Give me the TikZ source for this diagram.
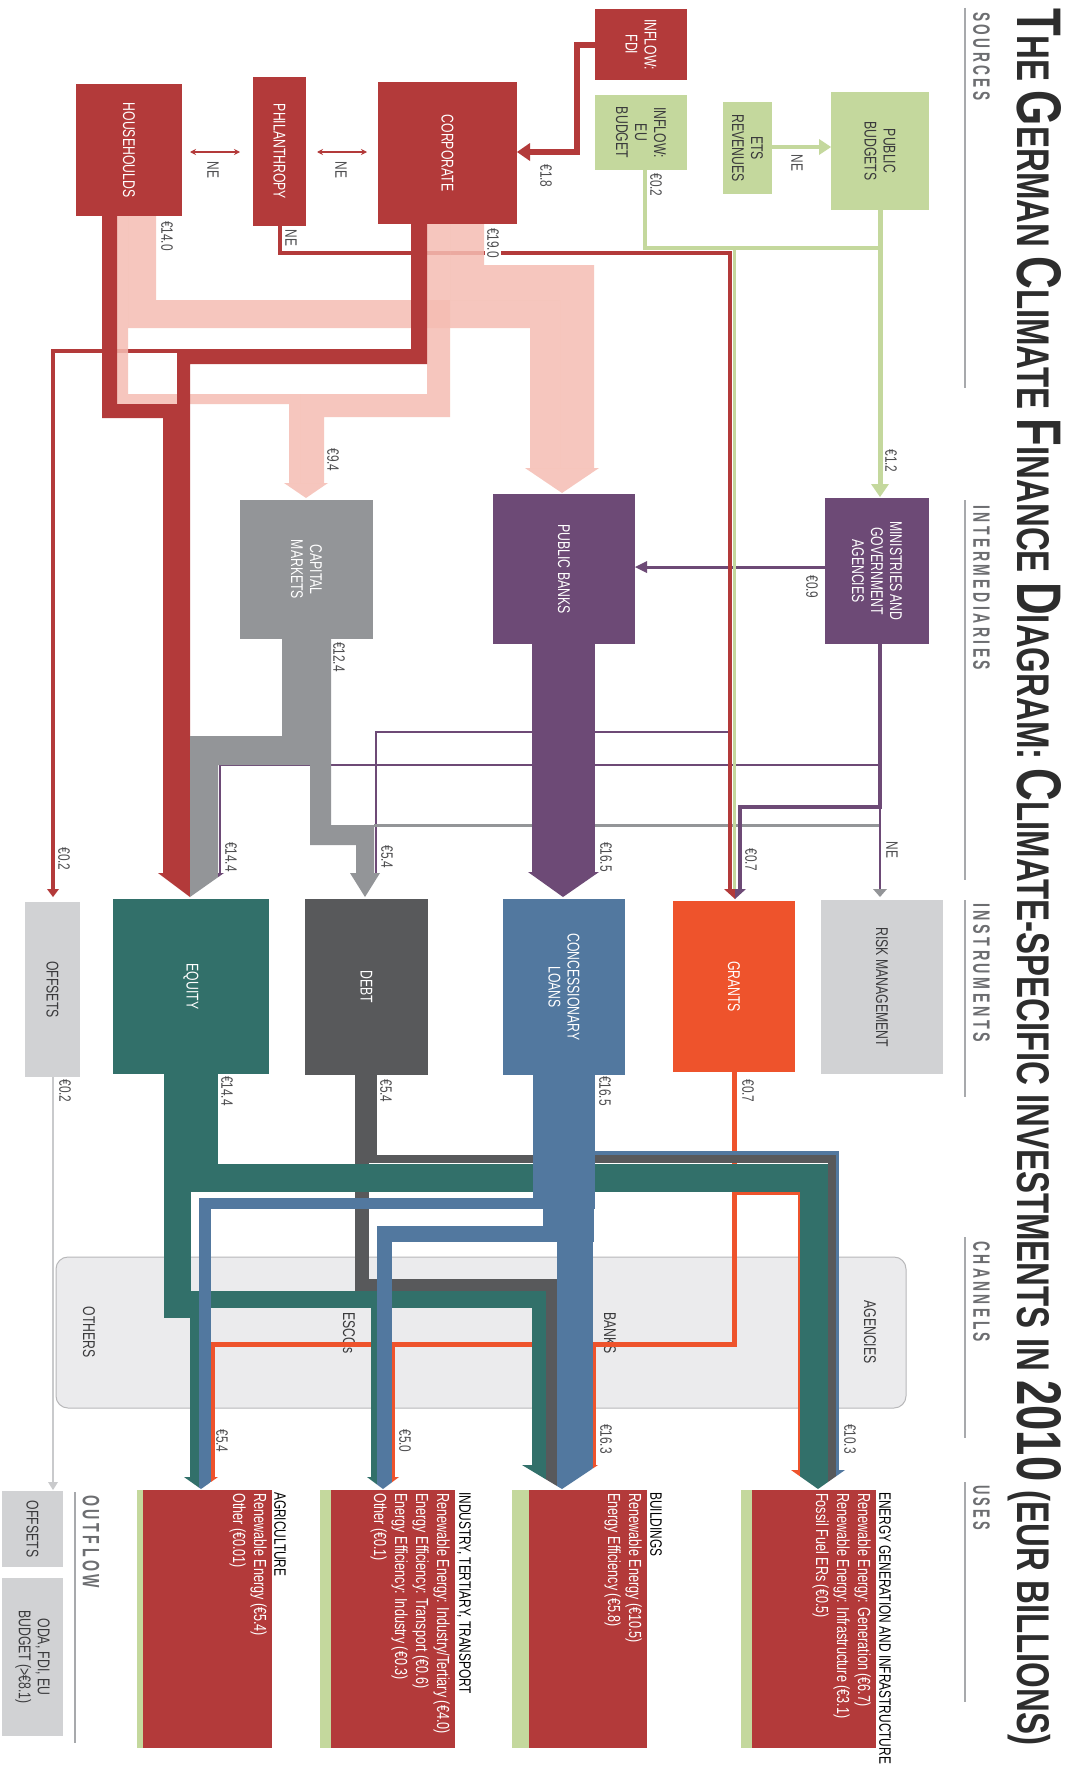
\documentclass[tikz,border=0pt]{standalone}
\usepackage{fontspec}
\setmainfont{Liberation Sans}[FakeStretch=0.72]
\usepackage{graphicx}
\usetikzlibrary{arrows.meta}
\definecolor{redc}{HTML}{B33A3A}
\definecolor{pinkc}{HTML}{F5BDB3}
\definecolor{greenc}{HTML}{C4D89D}
\definecolor{purc}{HTML}{6D4A76}
\definecolor{grayc}{HTML}{939598}
\definecolor{tealc}{HTML}{32706A}
\definecolor{dgc}{HTML}{58595B}
\definecolor{bluec}{HTML}{52789F}
\definecolor{orc}{HTML}{EE532C}
\definecolor{ltc}{HTML}{D1D2D4}
\definecolor{chf}{HTML}{EBEBED}
\definecolor{chb}{HTML}{B8B8BA}
\definecolor{secc}{HTML}{6D6E71}
\definecolor{linec}{HTML}{A7A9AC}
\definecolor{labc}{HTML}{4D4D4F}
\definecolor{titlec}{HTML}{2D2D2D}
\definecolor{darkt}{HTML}{3A3A3C}
\definecolor{offl}{HTML}{C9CACC}
\newcommand\tbig[1]{{\fontsize{44}{44}\selectfont #1}}
\newcommand\tsm[1]{{\fontsize{32}{32}\selectfont #1}}
\newcommand\seclabel[2]{\resizebox{#1pt}{16.5pt}{\bfseries\addfontfeature{LetterSpace=18}#2}}
\begin{document}
\begin{tikzpicture}[x=1pt,y=-1pt,
  bx/.style={rectangle, inner sep=0pt, outer sep=0pt, anchor=north west, draw=none},
  btxt/.style={rotate=-90, inner sep=0pt, align=center, text=white, font=\fontsize{17}{19}\selectfont},
  bdark/.style={btxt, text=darkt},
  vlab/.style={rotate=-90, inner sep=0pt, text=labc, font=\fontsize{16.5}{18}\selectfont},
  uhead/.style={rotate=-90, anchor=south west, inner sep=0pt, text=black, font=\fontsize{16.5}{20}\selectfont},
  uline/.style={rotate=-90, anchor=north west, inner sep=0pt, align=left, text=white, font=\fontsize{17.5}{21}\selectfont},
  seclab/.style={rotate=-90, anchor=west, inner sep=0pt, text=secc},
  secline/.style={draw=linec, line width=1.3pt},
  chlab/.style={rotate=-90, inner sep=0pt, text=darkt, font=\fontsize{17}{19}\selectfont},
  dbl/.style={draw=redc, line width=1.4pt, {Stealth[length=6pt,width=6pt]}-{Stealth[length=6pt,width=6pt]}},
]
\useasboundingbox (0,0) rectangle (1074,1769);
\fill[white] (0,0) rectangle (1074,1769);

% ---------- title and section labels
\node[rotate=-90, anchor=base west, inner sep=0pt, text=titlec] (title) at (1017,8)
  {\resizebox{1737pt}{44pt}{\bfseries\fontsize{32}{32}\selectfont \tbig{T}\tsm{HE} \tbig{G}\tsm{ERMAN} \tbig{C}\tsm{LIMATE} \tbig{F}\tsm{INANCE} \tbig{D}\tsm{IAGRAM:} \tbig{C}\tsm{LIMATE-SPECIFIC INVESTMENTS IN} \tbig{2010} \tsm{(EUR BILLIONS)}}};
\node[seclab] (src) at (981.5,12) {\seclabel{88}{SOURCES}};
\draw[secline] (965,8) -- (965,388);
\node[seclab] (intm) at (981.5,505) {\seclabel{165}{INTERMEDIARIES}};
\draw[secline] (965,500) -- (965,880);
\node[seclab] (instr) at (981.5,903) {\seclabel{139}{INSTRUMENTS}};
\draw[secline] (965,900) -- (965,1097);
\node[seclab] (chn) at (981.5,1241) {\seclabel{101}{CHANNELS}};
\draw[secline] (965,1237) -- (965,1438);
\node[seclab] (usesl) at (981.5,1485) {\seclabel{45}{USES}};
\draw[secline] (965,1482) -- (965,1702);
\node[seclab] (outf) at (91,1495) {\seclabel{93}{OUTFLOW}};
\draw[secline] (75,1492) -- (75,1743);

% ---------- source boxes
\node[bx, fill=redc, minimum width=106pt, minimum height=132pt] (hh) at (76,84) {};
\node[btxt] at (hh.center) {HOUSEHOULDS};
\node[bx, fill=redc, minimum width=53pt, minimum height=149pt] (phil) at (253,77) {};
\node[btxt] at (phil.center) {PHILANTHROPY};
\node[bx, fill=redc, minimum width=139pt, minimum height=142pt] (corp) at (378,82) {};
\node[btxt] at (corp.center) {CORPORATE};
\node[bx, fill=redc, minimum width=92pt, minimum height=71pt] (fdi) at (595,9) {};
\node[btxt] at (fdi.center) {INFLOW:\\FDI};
\node[bx, fill=greenc, minimum width=92pt, minimum height=75pt] (eu) at (595,95) {};
\node[bdark] at (eu.center) {INFLOW:\\EU\\BUDGET};
\node[bx, fill=greenc, minimum width=49pt, minimum height=92pt] (ets) at (723,102) {};
\node[bdark] at (ets.center) {ETS\\REVENUES};
\node[bx, fill=greenc, minimum width=98pt, minimum height=118pt] (pbud) at (831,92) {};
\node[bdark] at (pbud.center) {PUBLIC\\BUDGETS};

% ---------- top connectors
\draw[dbl] (190,152) -- (240,152);
\draw[dbl] (317,152) -- (367,152);
\draw[redc, line width=6pt] (595,45) -- (577,45) -- (577,152) -- (528,152);
\fill[redc] (517,152) -- (530,143) -- (530,161) -- cycle;
\draw[greenc, line width=4pt] (772,147) -- (821,147);
\fill[greenc] (819,139) -- (831,147) -- (819,155) -- cycle;
\draw[greenc, line width=4pt] (645,170) -- (645,248) -- (880,248);
\draw[greenc, line width=5pt] (880,210) -- (880,486);
\fill[greenc] (871,484) -- (889,484) -- (880,497) -- cycle;

% ---------- ministries thin lines
\draw[purc, line width=2.5pt] (880,765) -- (220,765) -- (220,873);
\draw[purc, line width=2.5pt] (731,732) -- (376,732) -- (376,873);
\draw[grayc, line width=3pt] (374,825) -- (880,825);
\draw[purc, line width=4pt] (880,644) -- (880,807) -- (740,807) -- (740,890);
\draw[purc, line width=2.5pt] (880,807) -- (880,890);
\fill[grayc] (873,889) -- (887,889) -- (880,897) -- cycle;
\draw[purc, line width=3pt] (825,567) -- (645,567);
\fill[purc] (635,567) -- (647,561) -- (647,573) -- cycle;

% ---------- red thin lines
\draw[redc, line width=4pt] (177,351) -- (53,351) -- (53,889);
\fill[redc] (47,889) -- (59,889) -- (53,897) -- cycle;
\draw[redc, line width=4pt] (279.5,226) -- (279.5,253) -- (730,253) -- (730,890);
\draw[greenc, line width=3pt] (734.5,248) -- (734.5,890);
\fill[redc] (724,889) -- (735,889) -- (735,899) -- cycle;
\fill[purc] (735,889) -- (746,889) -- (735,899) -- cycle;

% ---------- pink flows
\begin{scope}[fill=pinkc, fill opacity=0.85]
\fill (128,216) -- (156,216) -- (156,300) -- (560,300) -- (560,468) -- (530,468) -- (530,328) -- (128,328) -- cycle;
\fill (450,224) -- (484,224) -- (484,265) -- (594,265) -- (594,468) -- (560,468) -- (560,300) -- (450,300) -- cycle;
\fill (525,468) -- (599,468) -- (562,493) -- cycle;
\fill (117,216) -- (128,216) -- (128,394) -- (300,394) -- (300,483) -- (289,483) -- (289,404) -- (117,404) -- cycle;
\fill (427,224) -- (450,224) -- (450,417) -- (324,417) -- (324,483) -- (300,483) -- (300,394) -- (427,394) -- cycle;
\fill (284,483) -- (328,483) -- (306,498) -- cycle;
\end{scope}

% ---------- red bands to equity
\fill[redc] (102,216) -- (117,216) -- (117,404) -- (177,404) -- (177,873) -- (163,873) -- (163,418) -- (102,418) -- cycle;
\fill[redc] (411,224) -- (427,224) -- (427,364) -- (190,364) -- (190,873) -- (177,873) -- (177,349) -- (411,349) -- cycle;

% ---------- intermediaries
\node[bx, fill=grayc, minimum width=133pt, minimum height=139pt] (capm) at (240,500) {};
\node[btxt] at (capm.center) {CAPITAL\\MARKETS};
\node[bx, fill=purc, minimum width=142pt, minimum height=150pt] (pbank) at (493,494) {};
\node[btxt] at (pbank.center) {PUBLIC BANKS};
\node[bx, fill=purc, minimum width=104pt, minimum height=146pt] (mini) at (825,498) {};
\node[btxt] at (mini.center) {MINISTRIES AND\\GOVERNMENT\\AGENCIES};

\fill[purc] (532,644) rectangle (595,872);
\fill[purc] (528,872) -- (599,872) -- (563,897) -- cycle;
\fill[grayc] (282,639) -- (331,639) -- (331,825) -- (374,825) -- (374,873) -- (356,873) -- (356,845) -- (310,845) -- (310,765) -- (218,765) -- (218,873) -- (190,873) -- (190,736) -- (282,736) -- cycle;
\fill[grayc] (350,873) -- (380,873) -- (365,897) -- cycle;
\begin{scope}
\clip (158,873) -- (224,873) -- (190,897) -- cycle;
\fill[redc] (150,870) rectangle (190,900);
\fill[grayc] (190,870) rectangle (218,900);
\fill[purc] (218,870) rectangle (230,900);
\end{scope}

% ---------- instruments
\node[bx, fill=ltc, minimum width=55pt, minimum height=175pt] (offs) at (25,902) {};
\node[bdark] at (offs.center) {OFFSETS};
\node[bx, fill=tealc, minimum width=156pt, minimum height=175pt] (eq) at (113,899) {};
\node[btxt] at (eq.center) {EQUITY};
\node[bx, fill=dgc, minimum width=123pt, minimum height=176pt] (debt) at (305,899) {};
\node[btxt] at (debt.center) {DEBT};
\node[bx, fill=bluec, minimum width=122pt, minimum height=176pt] (conc) at (503,899) {};
\node[btxt] at (conc.center) {CONCESSIONARY\\LOANS};
\node[bx, fill=orc, minimum width=122pt, minimum height=171pt] (grants) at (673,901) {};
\node[btxt] at (grants.center) {GRANTS};
\node[bx, fill=ltc, minimum width=122pt, minimum height=174pt] (risk) at (821,900) {};
\node[bdark] at (risk.center) {RISK MANAGEMENT};

% ---------- channels
\node[bx, fill=chf, draw=chb, line width=1pt, rounded corners=12pt, minimum width=850pt, minimum height=151pt] (chan) at (56,1257) {};
\node[chlab] at (89,1332) {OTHERS};
\node[chlab] at (349,1333) {ESCOs};
\node[chlab] at (610,1333) {BANKS};
\node[chlab] at (870,1332) {AGENCIES};

% offsets outflow line
\draw[offl, line width=1.5pt] (53,1077) -- (53,1483);
\fill[offl] (48,1482) -- (58,1482) -- (53,1490) -- cycle;

% ---------- orange (grants)
\draw[orc, line width=5pt] (734.5,1072) -- (734.5,1344) -- (212,1344) -- (212,1477);
\draw[orc, line width=3pt] (734.5,1193) -- (799,1193) -- (799,1470);
\draw[orc, line width=3pt] (594,1344) -- (594,1465);
\draw[orc, line width=3pt] (393,1344) -- (393,1477);

% ---------- dark gray (debt)
\fill[dgc] (355,1075) rectangle (377,1163);
\fill[dgc] (377,1155) rectangle (836,1163);
\fill[dgc] (828,1155) rectangle (836,1470);
\fill[dgc] (355,1163) rectangle (369,1291);
\fill[dgc] (369,1279) rectangle (557,1291);
\fill[dgc] (546,1279) rectangle (557,1465);

% ---------- teal (equity)
\fill[tealc] (164,1074) rectangle (218,1192);
\fill[tealc] (218,1164) rectangle (828,1192);
\fill[tealc] (800,1192) rectangle (828,1470);
\fill[tealc] (164,1192) rectangle (191,1318);
\fill[tealc] (191,1291) rectangle (546,1308);
\fill[tealc] (532,1308) rectangle (546,1465);
\fill[tealc] (190,1291) rectangle (199,1477);
\fill[tealc] (371,1308) rectangle (377,1477);

% ---------- blue (concessionary loans)
\fill[bluec] (533,1075) rectangle (595,1209);
\fill[bluec] (595,1151) rectangle (839,1155);
\fill[bluec] (836,1151) rectangle (839,1470);
\fill[bluec] (199,1198) rectangle (543,1209);
\fill[bluec] (199,1209) rectangle (211,1477);
\fill[bluec] (543,1209) rectangle (594,1242);
\fill[bluec] (377,1226) rectangle (557,1242);
\fill[bluec] (377,1242) rectangle (392,1477);
\fill[bluec] (557,1242) rectangle (593,1465);

% ---------- arrowheads into uses
\begin{scope}
\clip (184,1477) -- (218,1477) -- (201,1489) -- cycle;
\fill[tealc] (180,1470) rectangle (199,1495);
\fill[bluec] (199,1470) rectangle (211,1495);
\fill[orc] (211,1470) rectangle (222,1495);
\end{scope}
\begin{scope}
\clip (367,1477) -- (399,1477) -- (383,1489) -- cycle;
\fill[tealc] (360,1470) rectangle (377,1495);
\fill[bluec] (377,1470) rectangle (392,1495);
\fill[orc] (392,1470) rectangle (405,1495);
\end{scope}
\begin{scope}
\clip (522,1465) -- (598,1465) -- (562,1489) -- cycle;
\fill[tealc] (515,1460) rectangle (546,1495);
\fill[dgc] (546,1460) rectangle (557,1495);
\fill[bluec] (557,1460) rectangle (593,1495);
\fill[orc] (593,1460) rectangle (605,1495);
\end{scope}
\begin{scope}
\clip (791,1470) -- (845,1470) -- (818,1489) -- cycle;
\fill[orc] (785,1465) rectangle (800,1495);
\fill[tealc] (800,1465) rectangle (828,1495);
\fill[dgc] (828,1465) rectangle (836,1495);
\fill[bluec] (836,1465) rectangle (850,1495);
\end{scope}

% ---------- uses boxes
\node[bx, fill=greenc, minimum width=6pt, minimum height=258pt] (agrig) at (137,1490) {};
\node[bx, fill=redc, minimum width=129pt, minimum height=258pt] (agri) at (143,1490) {};
\node[bx, fill=greenc, minimum width=11pt, minimum height=258pt] (indg) at (320,1490) {};
\node[bx, fill=redc, minimum width=124pt, minimum height=258pt] (ind) at (331,1490) {};
\node[bx, fill=greenc, minimum width=17pt, minimum height=258pt] (bldg) at (512,1490) {};
\node[bx, fill=redc, minimum width=118pt, minimum height=258pt] (bld) at (529,1490) {};
\node[bx, fill=greenc, minimum width=11pt, minimum height=258pt] (eng) at (741,1490) {};
\node[bx, fill=redc, minimum width=124pt, minimum height=258pt] (en) at (752,1490) {};

\node[uhead] at (274,1492) {AGRICULTURE};
\node[uline] at (267,1493) {Renewable Energy (€5.4)\\Other (€0.01)};
\node[uhead] at (457,1492) {INDUSTRY, TERTIARY, TRANSPORT};
\node[uline] at (450,1493) {Renewable Energy: Industry/Tertiary (€4.0)\\Energy Efficiency: Transport (€0.6)\\Energy Efficiency: Industry (€0.3)\\Other (€0.1)};
\node[uhead] at (650,1492) {BUILDINGS};
\node[uline] at (642,1493) {Renewable Energy (€10.5)\\Energy Efficiency (€5.8)};
\node[uhead] at (879,1492) {ENERGY GENERATION AND INFRASTRUCTURE};
\node[uline] at (871,1493) {Renewable Energy: Generation (€6.7)\\Renewable Energy: Infrastructure (€3.1)\\Fossil Fuel ERs (€0.5)};

% ---------- outflow boxes
\node[bx, fill=ltc, minimum width=61pt, minimum height=76pt] (ooff) at (2,1491) {};
\node[bdark] at (ooff.center) {OFFSETS};
\node[bx, fill=ltc, minimum width=61pt, minimum height=158pt] (oda) at (2,1578) {};
\node[bdark] at (oda.center) {ODA, FDI, EU\\BUDGET (>€8.1)};

% ---------- value labels
\node[vlab] at (167,236) {€14.0};
\node[vlab] at (291,238) {NE};
\node[vlab, fill=white, inner sep=2pt] at (493,243) {€19.0};
\node[vlab] at (546,176) {€1.8};
\node[vlab] at (656,185) {€0.2};
\node[vlab] at (213,170) {NE};
\node[vlab] at (341,170) {NE};
\node[vlab] at (797,163) {NE};
\node[vlab] at (891,461) {€1.2};
\node[vlab] at (333,460) {€9.4};
\node[vlab] at (812,587) {€0.9};
\node[vlab] at (339,657) {€12.4};
\node[vlab] at (64,859) {€0.2};
\node[vlab] at (231,857) {€14.4};
\node[vlab] at (387,857) {€5.4};
\node[vlab] at (606,857) {€16.5};
\node[vlab] at (751,860) {€0.7};
\node[vlab] at (892,850) {NE};
\node[vlab] at (65,1091) {€0.2};
\node[vlab] at (227,1091) {€14.4};
\node[vlab] at (386,1091) {€5.4};
\node[vlab] at (605,1091) {€16.5};
\node[vlab] at (748,1091) {€0.7};
\node[vlab] at (222,1441) {€5.4};
\node[vlab] at (405,1441) {€5.0};
\node[vlab] at (606,1439) {€16.3};
\node[vlab] at (850,1439) {€10.3};
\end{tikzpicture}
\end{document}
